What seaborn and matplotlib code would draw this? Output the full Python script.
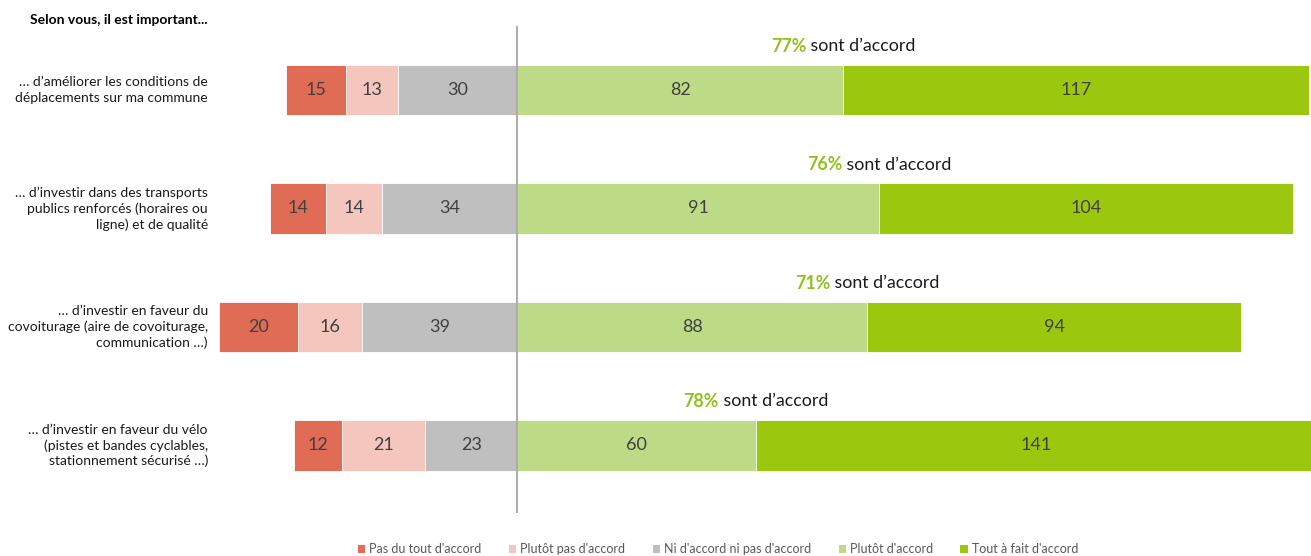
import matplotlib
matplotlib.use("Agg")
import matplotlib.pyplot as plt
from matplotlib.patches import Patch
import numpy as np
import pandas as pd
import seaborn as sns

# Survey answers (number of respondents)
questions = [
    "… d’améliorer les conditions de\ndéplacements sur ma commune",
    "… d’investir dans des transports\npublics renforcés (horaires ou\nligne) et de qualité",
    "… d’investir en faveur du\ncovoiturage (aire de covoiturage,\ncommunication …)",
    "… d’investir en faveur du vélo\n(pistes et bandes cyclables,\nstationnement sécurisé …)",
]
categories = ["Pas du tout d'accord", "Plutôt pas d'accord", "Ni d'accord ni pas d'accord",
              "Plutôt d'accord", "Tout à fait d'accord"]
pas_du_tout = [15, 14, 20, 12]
plutot_pas = [13, 14, 16, 21]
neutre = [30, 34, 39, 23]
plutot = [82, 91, 88, 60]
tout_a_fait = [117, 104, 94, 141]

colors = ["#E06C55", "#F4C6BE", "#BFBFBF", "#BDDA87", "#9BC70E"]
title = "Selon vous, il est important..."

sns.set_theme(style="white")
plt.rcParams["font.family"] = ["Lato", "DejaVu Sans"]

W, H = 1311, 556
fig = plt.figure(figsize=(W / 100, H / 100), dpi=100)

# axes placed in pixel units: x from 200 px to right edge, y full height
ax_left, ax_right = 200, 1311
ax = fig.add_axes([ax_left / W, 20 / H, (ax_right - ax_left) / W, (H - 20) / H])

n1 = np.array(pas_du_tout)
n2 = np.array(plutot_pas)
n3 = np.array(neutre)
p1 = np.array(plutot)
p2 = np.array(tout_a_fait)

# cumulative extents, drawn from the outermost segment inwards
layers = [
    (-(n1 + n2 + n3), colors[0]),
    (-(n2 + n3), colors[1]),
    (-n3, colors[2]),
    (p1 + p2, colors[4]),
    (p1, colors[3]),
]
for vals, col in layers:
    df = pd.DataFrame({"question": questions, "value": vals})
    sns.barplot(data=df, x="value", y="question", order=questions, color=col,
                orient="h", width=0.43, edgecolor="white", linewidth=0.6,
                saturation=1, ax=ax)

px_per_unit = 3.98
zero_px = 517
xmin = -(zero_px - ax_left) / px_per_unit
xmax = (ax_right - zero_px) / px_per_unit
ax.set_xlim(xmin, xmax)

# vertical pixel mapping: row i centred at 90 + 118.5*i px from top
row0, step = 90, 118.5
ax_top_px, ax_bot_px = 0, H - 20
ax.set_ylim((ax_bot_px - row0) / step, (ax_top_px - row0) / step)
ax.axis("off")

# zero line
ax.plot([0, 0], [(26 - row0) / step, (513 - row0) / step], color="#A6A6A6", lw=1.3,
        zorder=5, solid_capstyle="butt")

label_color = "#404040"
for i in range(len(questions)):
    segs = [
        (-(n3[i] + n2[i] + n1[i] / 2), n1[i]),
        (-(n3[i] + n2[i] / 2), n2[i]),
        (-(n3[i] / 2), n3[i]),
        (p1[i] / 2, p1[i]),
        (p1[i] + p2[i] / 2, p2[i]),
    ]
    for xc, v in segs:
        ax.text(xc, i, f"{v}", ha="center", va="center", fontsize=13,
                color=label_color, zorder=6)

# question labels on the left
for i, q in enumerate(questions):
    fig.text(208 / W, 1 - (row0 + step * i) / H, q, ha="right", va="center",
             fontsize=10, color="#1a1a1a", linespacing=1.32)

fig.text(208 / W, 1 - 20 / H, title, ha="right", va="center", fontsize=10,
         fontweight="bold", color="#000000")

# agreement share above each bar, centred on the boundary between the two greens
fig.canvas.draw()
renderer = fig.canvas.get_renderer()
total = n1 + n2 + n3 + p1 + p2
for i in range(len(questions)):
    pct = round(100 * (p1[i] + p2[i]) / total[i])
    ypix = row0 + step * i - 25 - 19
    xb = ax.transData.transform((p1[i], 0))[0]
    t1 = fig.text(0, 0, f"{pct}%", fontsize=12.8, fontweight="bold", color="#92C01F",
                  ha="left", va="center")
    t2 = fig.text(0, 0, " sont d’accord", fontsize=12.8, color="#1a1a1a",
                  ha="left", va="center")
    w1 = t1.get_window_extent(renderer).width
    w2 = t2.get_window_extent(renderer).width
    x0 = xb - (w1 + w2) / 2
    t1.set_position((x0 / W, 1 - ypix / H))
    t2.set_position(((x0 + w1) / W, 1 - ypix / H))

handles = [Patch(facecolor=c, edgecolor="none") for c in colors]
fig.legend(handles, categories, loc="center", bbox_to_anchor=(718 / W, 1 - 549 / H),
           ncol=5, frameon=False, fontsize=9, handlelength=0.6, handleheight=0.6,
           handletextpad=0.3, columnspacing=2.2, labelcolor="#595959")

fig.savefig("out.png", dpi=100)
